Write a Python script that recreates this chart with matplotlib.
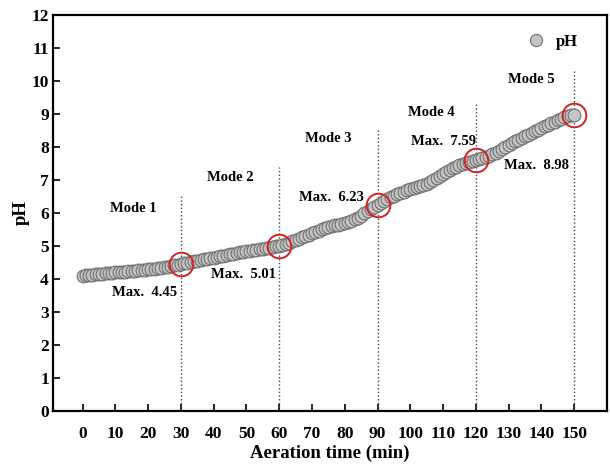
import matplotlib
matplotlib.use("Agg")
from matplotlib import pyplot as plt

# data
tiempo = list(range(0, 151))
ph = [4.10, 4.11, 4.12, 4.13, 4.14, 4.15, 4.16, 4.17, 4.18, 4.19,
      4.20, 4.21, 4.21, 4.22, 4.23, 4.24, 4.25, 4.26, 4.27, 4.28,
      4.29, 4.30, 4.31, 4.32, 4.34, 4.35, 4.37, 4.39, 4.41, 4.43,
      4.45, 4.47, 4.49, 4.51, 4.53, 4.55, 4.57, 4.59, 4.61, 4.63,
      4.65, 4.67, 4.69, 4.71, 4.73, 4.75, 4.77, 4.79, 4.81, 4.83,
      4.85, 4.86, 4.88, 4.89, 4.91, 4.92, 4.94, 4.95, 4.97, 4.99,
      5.01, 5.04, 5.07, 5.10, 5.14, 5.18, 5.22, 5.26, 5.30, 5.34,
      5.38, 5.42, 5.46, 5.50, 5.53, 5.56, 5.59, 5.62, 5.65, 5.68,
      5.71, 5.74, 5.77, 5.81, 5.86, 5.92, 5.99, 6.06, 6.12, 6.18,
      6.23, 6.29, 6.35, 6.41, 6.47, 6.52, 6.57, 6.61, 6.65, 6.69,
      6.72, 6.75, 6.78, 6.81, 6.84, 6.88, 6.93, 6.99, 7.06, 7.13,
      7.19, 7.25, 7.30, 7.35, 7.40, 7.44, 7.48, 7.52, 7.55, 7.57,
      7.59, 7.62, 7.65, 7.69, 7.73, 7.78, 7.83, 7.88, 7.94, 8.00,
      8.06, 8.12, 8.17, 8.22, 8.27, 8.32, 8.37, 8.42, 8.47, 8.52,
      8.57, 8.62, 8.67, 8.72, 8.77, 8.82, 8.86, 8.90, 8.94, 8.96,
      8.98]

modos = ["Mode 1", "Mode 2", "Mode 3", "Mode 4", "Mode 5"]
fin_modo = [30, 60, 90, 120, 150]
max_ph = [4.45, 5.01, 6.23, 7.59, 8.98]
alto_linea = [6.5, 7.4, 8.55, 9.35, 10.3]
pos_modo = [(15.5, 6.15), (45, 7.06), (75, 8.25), (106.5, 9.03), (137, 10.03)]
pos_max = [(19, 3.58), (49, 4.12), (76, 6.48), (110, 8.18), (138.5, 7.45)]

plt.rcParams['font.family'] = ['Liberation Serif', 'DejaVu Serif']
plt.rcParams['font.weight'] = 'bold'

fig = plt.figure(figsize=(6.1, 4.67), dpi=100, facecolor='w')
ax = fig.add_axes([0.087, 0.12, 0.908, 0.848])

ax.plot(tiempo, ph, 'o', ms=9.2, mfc='#c4c4c4', mec='#707070', mew=0.8, label='pH', zorder=3)

for i in range(len(fin_modo)):
    ax.plot([fin_modo[i], fin_modo[i]], [0, alto_linea[i]], ':', color='#444444', lw=1.0, zorder=2)
    ax.plot(fin_modo[i], max_ph[i], 'o', ms=17, mfc='none', mec='#d42020', mew=1.4, zorder=4)
    ax.text(pos_modo[i][0], pos_modo[i][1], modos[i], ha='center', va='center', fontsize=10.5, fontweight='bold')
    ax.text(pos_max[i][0], pos_max[i][1], "Max.  %.2f" % max_ph[i], ha='center', va='center',
            fontsize=10.5, fontweight='bold')

ax.set_xlim(-9, 160)
ax.set_ylim(0, 12)
ax.set_xticks(range(0, 151, 10))
ax.set_yticks(range(0, 13))
ax.tick_params(direction='in', length=5, width=1.2, labelsize=12.5)
ax.tick_params(axis='x', pad=11)
ax.tick_params(axis='y', pad=3)
for s in ax.spines.values():
    s.set_linewidth(1.6)

ax.set_xlabel("Aeration time (min)", fontsize=13.5, fontweight='bold', labelpad=2)
ax.set_ylabel("pH", fontsize=13.5, fontweight='bold', labelpad=1)

ax.legend(loc='upper right', frameon=False, fontsize=12, handletextpad=0.2,
          markerscale=0.95, bbox_to_anchor=(0.975, 0.99))

plt.savefig("out.png", dpi=100)
